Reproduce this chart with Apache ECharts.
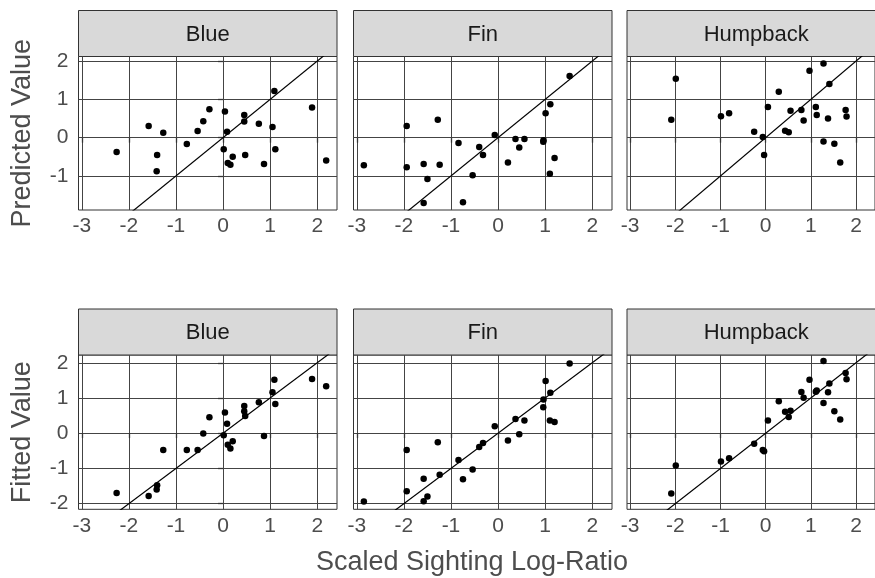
<!DOCTYPE html>
<html><head><meta charset="utf-8">
<script src="https://cdn.jsdelivr.net/npm/echarts@6/dist/echarts.min.js"></script>
<style>html,body{margin:0;padding:0;background:#fff}#c{width:875px;height:578px}</style>
</head><body><div id="c"></div>
<script>
// ---- data ----
const species = ['Blue', 'Fin', 'Humpback'];
const rowTitles = ['Predicted Value', 'Fitted Value'];
const xTitle = 'Scaled Sighting Log-Ratio';
const xTicks = [-3, -2, -1, 0, 1, 2];
const yTicksTop = [-1, 0, 1, 2];
const yTicksBottom = [-2, -1, 0, 1, 2];

const blueX    = [-2.26, -1.58, -1.40, -1.41, -1.27, -0.77, -0.54, -0.42, -0.29, 0.04, 0.085, 0.014, 0.10, 0.156, 0.205, 0.45, 0.45, 0.47, 0.76, 0.87, 1.05, 1.09, 1.11, 1.89, 2.19];
const bluePred = [-0.375, 0.305, -0.45, -0.88, 0.13, -0.165, 0.175, 0.43, 0.74, 0.68, 0.157, -0.305, -0.66, -0.71, -0.50, 0.59, 0.42, -0.45, 0.36, -0.69, 0.28, 1.22, -0.305, 0.785, -0.60];
const blueFit  = [-1.695, -1.78, -1.48, -1.60, -0.48, -0.48, -0.48, -0.01, 0.455, 0.587, 0.265, -0.057, -0.33, -0.435, -0.227, 0.77, 0.62, 0.49, 0.88, -0.08, 1.165, 1.515, 0.83, 1.54, 1.335];

const finX    = [-2.85, -1.94, -1.94, -1.58, -1.50, -1.58, -1.28, -1.24, -0.84, -0.745, -0.54, -0.40, -0.32, -0.07, 0.21, 0.37, 0.45, 0.56, 0.96, 0.965, 1.01, 1.11, 1.10, 1.20, 1.52];
const finPred = [-0.72, 0.305, -0.77, -0.69, -1.08, -1.71, 0.47, -0.71, -0.14, -1.69, -0.98, -0.244, -0.45, 0.07, -0.65, -0.035, -0.26, -0.035, -0.11, -0.07, 0.64, 0.87, -0.94, -0.53, 1.61];
const finFit  = [-1.94, -0.48, -1.65, -1.29, -1.80, -1.93, -0.256, -1.18, -0.76, -1.31, -1.03, -0.39, -0.275, 0.20, -0.21, 0.40, -0.03, 0.36, 0.74, 0.956, 1.48, 1.15, 0.36, 0.32, 1.98];

const humpX    = [-2.09, -1.99, -0.99, -0.81, -0.255, -0.064, -0.035, 0.05, 0.29, 0.43, 0.51, 0.55, 0.79, 0.84, 0.97, 1.11, 1.13, 1.28, 1.28, 1.41, 1.38, 1.52, 1.65, 1.77, 1.79];
const humpPred = [0.47, 1.54, 0.56, 0.64, 0.157, 0.017, -0.45, 0.80, 1.20, 0.18, 0.14, 0.70, 0.72, 0.45, 1.75, 0.80, 0.59, 1.94, -0.10, 1.40, 0.50, -0.16, -0.65, 0.72, 0.55];
const humpFit  = [-1.71, -0.92, -0.80, -0.71, -0.30, -0.48, -0.51, 0.36, 0.91, 0.61, 0.46, 0.64, 1.17, 1.01, 1.52, 1.18, 1.21, 2.05, 0.86, 1.41, 1.165, 0.62, 0.39, 1.71, 1.53];

const refLine = [-4, 4]; // identity line y = x

// ---- layout ----
const FONT = 'Liberation Sans, Arial, sans-serif';
const panelLeft = [78.5, 353.5, 627];
const panelW = 258.5;
const rows = [
  { stripTop: 10.5, panelTop: 56.5, panelH: 153.5, yMin: -1.89, yMax: 2.12, yTicks: yTicksTop },
  { stripTop: 309, panelTop: 355, panelH: 154.3, yMin: -2.16, yMax: 2.22, yTicks: yTicksBottom }
];
const xMin = -3.07, xMax = 2.42;

const panelData = [
  [[blueX, bluePred], [finX, finPred], [humpX, humpPred]],
  [[blueX, blueFit], [finX, finFit], [humpX, humpFit]]
];

const grids = [], xAxes = [], yAxes = [], series = [], graphics = [];
let gi = 0;
rows.forEach((row, r) => {
  species.forEach((sp, c) => {
    grids.push({
      left: panelLeft[c], top: row.panelTop, width: panelW, height: row.panelH,
      show: true, borderColor: '#333', borderWidth: 1, backgroundColor: 'transparent'
    });
    xAxes.push({
      gridIndex: gi, type: 'value', min: xMin, max: xMax,
      axisLine: { show: false },
      axisTick: { show: true, length: 5, customValues: xTicks, lineStyle: { color: '#333', width: 1.3 } },
      axisLabel: { customValues: xTicks, fontSize: 21, color: '#4d4d4d', margin: 6, fontFamily: FONT },
      splitLine: { show: true, lineStyle: { color: '#444', width: 1 } }
    });
    const isLeft = c === 0;
    yAxes.push({
      gridIndex: gi, type: 'value', min: row.yMin, max: row.yMax,
      axisLine: { show: false },
      axisTick: { show: isLeft, length: 5, customValues: row.yTicks, lineStyle: { color: '#333', width: 1.3 } },
      axisLabel: { show: isLeft, customValues: row.yTicks, fontSize: 21, color: '#4d4d4d', margin: 10, fontFamily: FONT },
      splitLine: { show: true, lineStyle: { color: '#444', width: 1 } },
      name: isLeft ? rowTitles[r] : '',
      nameLocation: 'middle', nameGap: 42,
      nameTextStyle: { fontSize: 27, color: '#4d4d4d', fontFamily: FONT }
    });
    const [xs, ys] = panelData[r][c];
    series.push({
      type: 'line', xAxisIndex: gi, yAxisIndex: gi, clip: true, silent: true,
      symbol: 'none', lineStyle: { color: '#000', width: 1.2 },
      data: refLine.map(v => [v, v]), z: 3
    });
    series.push({
      type: 'scatter', xAxisIndex: gi, yAxisIndex: gi, symbolSize: 6.5,
      itemStyle: { color: '#000', opacity: 1 },
      data: xs.map((x, i) => [x, ys[i]]), z: 4
    });
    graphics.push({
      type: 'rect', silent: true,
      shape: { x: panelLeft[c], y: row.stripTop, width: panelW, height: row.panelTop - row.stripTop },
      style: { fill: '#d9d9d9', stroke: '#333', lineWidth: 1 }
    });
    graphics.push({
      type: 'text', silent: true,
      x: panelLeft[c] + panelW / 2, y: (row.stripTop + row.panelTop) / 2 + 1,
      style: { text: sp, fontSize: 22, fill: '#1a1a1a', fontFamily: FONT, align: 'center', verticalAlign: 'middle' }
    });
    gi++;
  });
});
graphics.push({
  type: 'text', silent: true, x: 472, y: 563,
  style: { text: xTitle, fontSize: 27, fill: '#4d4d4d', fontFamily: FONT, align: 'center', verticalAlign: 'middle' }
});

const chart = echarts.init(document.getElementById('c'), null, { renderer: 'canvas' });
chart.setOption({
  animation: false,
  backgroundColor: '#fff',
  textStyle: { fontFamily: FONT },
  grid: grids, xAxis: xAxes, yAxis: yAxes, series: series,
  graphic: graphics
});
</script></body></html>
